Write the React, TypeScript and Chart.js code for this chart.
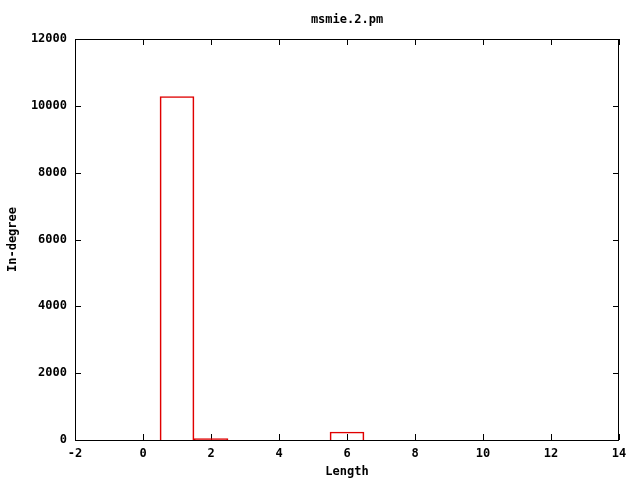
import React, { useEffect, useRef } from "react";
import { Chart, registerables } from "chart.js";

Chart.register(...registerables);

const chartTitle = "msmie.2.pm";
const xTitle = "Length";
const yTitle = "In-degree";
const lengths = [1, 2, 6];
const inDegree = [10280, 40, 240];
const xRange = [-2, 14];
const yRange = [0, 12000];

const FONT = 'bold 12px "DejaVu Sans Mono", "Liberation Mono", monospace';
const TICK_FONT = { family: '"DejaVu Sans Mono"', weight: "bold", size: 12 };

const framePlugin = {
  id: "frame",
  beforeDatasetsDraw(chart: any) {
    const { ctx, chartArea } = chart;
    const { left, right, top, bottom } = chartArea;
    const xs = chart.scales.x;
    const ys = chart.scales.y;
    ctx.save();
    ctx.strokeStyle = "#000";
    ctx.lineWidth = 1;
    ctx.beginPath();
    ctx.rect(left + 0.5, top + 0.5, right - left - 1, bottom - top);
    ctx.stroke();
    const t = 6;
    ctx.beginPath();
    xs.ticks.forEach((tk: any) => {
      const px = Math.round(xs.getPixelForValue(tk.value)) + 0.5;
      ctx.moveTo(px, bottom);
      ctx.lineTo(px, bottom - t);
      ctx.moveTo(px, top);
      ctx.lineTo(px, top + t);
    });
    ys.ticks.forEach((tk: any) => {
      const py = Math.round(ys.getPixelForValue(tk.value)) + 0.5;
      ctx.moveTo(left, py);
      ctx.lineTo(left + t, py);
      ctx.moveTo(right, py);
      ctx.lineTo(right - t, py);
    });
    ctx.stroke();
    ctx.fillStyle = "#000";
    ctx.font = FONT;
    ctx.textAlign = "center";
    ctx.textBaseline = "middle";
    const cx = (left + right) / 2;
    ctx.fillText(chartTitle, cx, 20);
    ctx.fillText(xTitle, cx, 472);
    ctx.translate(13, (top + bottom) / 2);
    ctx.rotate(-Math.PI / 2);
    ctx.fillText(yTitle, 0, 0);
    ctx.restore();
  },
};

export default function App() {
  const ref = useRef<HTMLCanvasElement | null>(null);
  useEffect(() => {
    if (!ref.current) return;
    const chart = new Chart(ref.current, {
      type: "bar",
      data: {
        datasets: [
          {
            data: lengths.map((x, i) => ({ x, y: inDegree[i] })),
            backgroundColor: "rgba(0,0,0,0)",
            borderColor: "#e00000",
            borderWidth: 1,
            borderSkipped: "start",
            barPercentage: 1,
            categoryPercentage: 1,
          },
        ],
      },
      options: {
        responsive: false,
        animation: false,
        layout: { padding: { left: 0, right: 21, top: 39, bottom: 0 } },
        plugins: { legend: { display: false }, tooltip: { enabled: false }, title: { display: false } },
        scales: {
          x: {
            type: "linear",
            min: xRange[0],
            max: xRange[1],
            offset: false,
            grid: { display: false, drawTicks: false },
            border: { display: false },
            ticks: { stepSize: 2, color: "#000", font: TICK_FONT, padding: 7, maxRotation: 0, callback: (v: any) => String(v) },
            afterFit: (s: any) => { s.height = 40; },
          },
          y: {
            min: yRange[0],
            max: yRange[1],
            grid: { display: false, drawTicks: false },
            border: { display: false },
            ticks: { stepSize: 2000, color: "#000", font: TICK_FONT, padding: 8, callback: (v: any) => String(v) },
            afterFit: (s: any) => { s.width = 75; },
          },
        },
      },
      plugins: [framePlugin],
    } as any);
    return () => chart.destroy();
  }, []);
  return (
    <div style={{ position: "fixed", left: 0, top: 0, width: 640, height: 480, background: "#fff" }}>
      <canvas ref={ref} width={640} height={480} />
    </div>
  );
}
